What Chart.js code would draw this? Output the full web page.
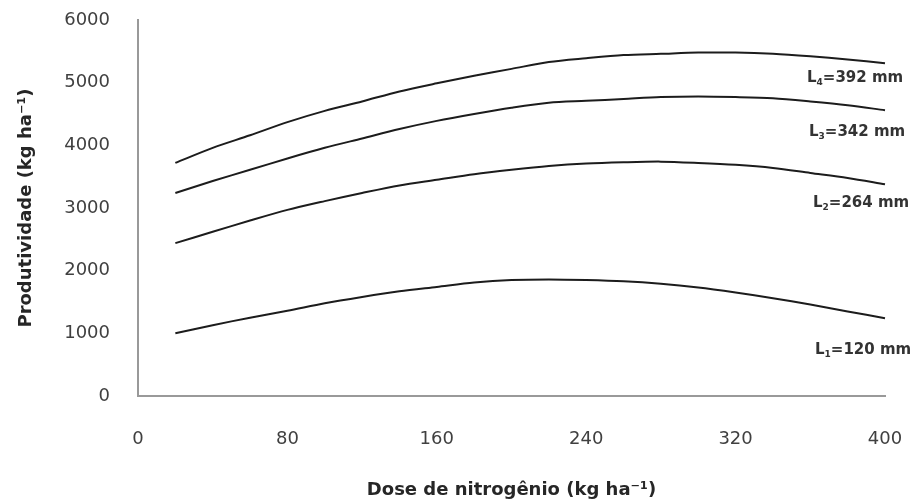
<!DOCTYPE html>
<html>
<head>
<meta charset="utf-8">
<script src="https://cdn.jsdelivr.net/npm/chart.js@4/dist/chart.umd.min.js"></script>
<style>
  body { margin: 0; background: #fff; }
</style>
</head>
<body>
<canvas id="chart" width="917" height="504"></canvas>
<script>
// dose de N (kg/ha) and productivity
const doses = [20, 40, 60, 80, 100, 120, 140, 160, 180, 200, 220, 240, 260, 280, 300, 320, 340, 360, 380, 400];
const l1 = [1000, 1130, 1250, 1360, 1480, 1580, 1670, 1740, 1810, 1850, 1860, 1850, 1830, 1790, 1730, 1650, 1560, 1460, 1350, 1240];
const l2 = [2440, 2620, 2800, 2970, 3110, 3240, 3360, 3450, 3540, 3610, 3670, 3710, 3730, 3740, 3720, 3690, 3640, 3560, 3480, 3380];
const l3 = [3240, 3430, 3610, 3790, 3960, 4110, 4260, 4390, 4500, 4600, 4680, 4710, 4740, 4770, 4780, 4770, 4750, 4700, 4640, 4560];
const l4 = [3720, 3960, 4160, 4370, 4550, 4700, 4860, 4990, 5110, 5220, 5330, 5390, 5440, 5460, 5480, 5480, 5460, 5420, 5370, 5310];

const seriesNames = ['1', '2', '3', '4'];        // subscripts
const seriesLamina = ['120', '264', '342', '392']; // mm

const xTicks = [0, 80, 160, 240, 320, 400];
const yTicks = [0, 1000, 2000, 3000, 4000, 5000, 6000];

function points(ys) {
    return doses.map((d, i) => ({x: d, y: ys[i]}));
}

// label offsets from the last point of each curve
const labelDx = [-70, -72, -76, -78];
const labelDy = [32, 19, 22, 15];

const curveLabels = {
    id: 'curveLabels',
    afterDatasetsDraw(chart) {
        const ctx = chart.ctx;
        ctx.save();
        ctx.fillStyle = '#333';
        ctx.textBaseline = 'middle';
        ctx.textAlign = 'left';
        chart.data.datasets.forEach((ds, i) => {
            const meta = chart.getDatasetMeta(i);
            const last = meta.data[meta.data.length - 1];
            let x = last.x + labelDx[i];
            const y = last.y + labelDy[i];
            ctx.font = 'bold 15px "DejaVu Sans"';
            ctx.fillText('L', x, y);
            x += ctx.measureText('L').width;
            ctx.font = 'bold 9px "DejaVu Sans"';
            ctx.fillText(seriesNames[i], x, y + 4);
            x += ctx.measureText(seriesNames[i]).width;
            ctx.font = 'bold 15px "DejaVu Sans"';
            ctx.fillText('=' + seriesLamina[i] + ' mm', x, y);
        });
        ctx.restore();
    }
};

const allSeries = [l1, l2, l3, l4];

new Chart(document.getElementById('chart'), {
    type: 'line',
    data: {
        datasets: allSeries.map((s, i) => ({
            label: 'L' + seriesNames[i],
            data: points(s),
            borderColor: '#1c1c1c',
            borderWidth: 2,
            pointRadius: 0,
            tension: 0.3,
            fill: false,
            clip: false
        }))
    },
    options: {
        responsive: false,
        animation: false,
        layout: { padding: { top: 20, right: 32, left: 0, bottom: 0 } },
        plugins: {
            legend: { display: false },
            tooltip: { enabled: false }
        },
        scales: {
            x: {
                type: 'linear',
                min: 0,
                max: 400,
                afterBuildTicks: scale => { scale.ticks = xTicks.map(v => ({value: v})); },
                afterFit: scale => {
                    scale.height = 108;
                    scale.paddingLeft = 0;
                    scale.paddingRight = 0;
                },
                grid: { display: false, drawTicks: false },
                border: { display: true, color: '#999', width: 2 },
                ticks: {
                    padding: 33,
                    color: '#404040',
                    font: { family: 'DejaVu Sans', size: 18 },
                    callback: v => String(v)
                },
                title: {
                    display: true,
                    text: 'Dose de nitrogênio (kg ha⁻¹)',
                    color: '#262626',
                    font: { family: 'DejaVu Sans', size: 18, weight: 'bold' },
                    padding: { top: 0, bottom: 3 }
                }
            },
            y: {
                min: 0,
                max: 6000,
                afterBuildTicks: scale => { scale.ticks = yTicks.map(v => ({value: v})); },
                afterFit: scale => {
                    scale.width = 138;
                    scale.paddingTop = 0;
                    scale.paddingBottom = 0;
                },
                grid: { display: false, drawTicks: false },
                border: { display: true, color: '#999', width: 2 },
                ticks: {
                    padding: 28,
                    color: '#404040',
                    font: { family: 'DejaVu Sans', size: 18 },
                    callback: v => String(v)
                },
                title: {
                    display: true,
                    text: 'Produtividade (kg ha⁻¹)',
                    color: '#262626',
                    font: { family: 'DejaVu Sans', size: 18, weight: 'bold' },
                    padding: { top: 16, bottom: 0 }
                }
            }
        }
    },
    plugins: [curveLabels]
});
</script>
</body>
</html>
